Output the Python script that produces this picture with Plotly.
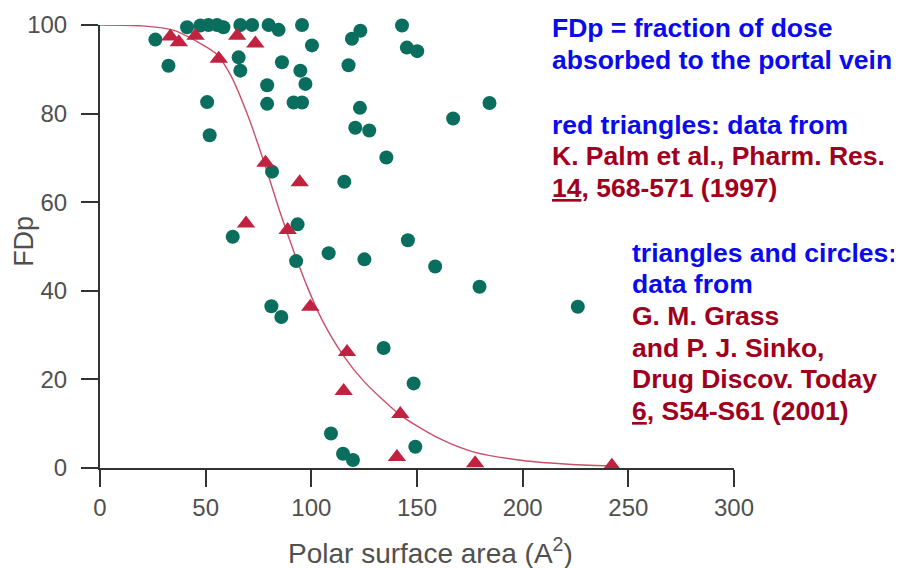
import plotly.graph_objects as go

# ---- data ----
# Grass & Sinko circles: polar surface area (A^2) vs FDp (%)
circle_psa = [26.2, 32.4, 41.2, 47.5, 51.3, 55.4, 58.4, 66.4, 72.0, 79.8, 84.5, 95.6, 100.3,
              50.7, 51.9, 65.6, 66.4, 79.1, 79.1, 86.1, 94.8, 97.2, 91.6, 95.6,
              119.2, 123.2, 117.6, 142.9, 145.2, 150.1, 123.0, 120.8, 127.4, 135.5,
              167.1, 184.3, 81.4, 115.6, 62.8, 93.5, 92.8, 108.2, 125.1, 145.7,
              158.6, 179.6, 226.1, 81.1, 85.8, 134.2, 148.4, 109.3, 115.0, 119.7, 149.2]
circle_fdp = [96.7, 90.8, 99.5, 99.9, 100.0, 100.0, 99.5, 100.0, 100.0, 100.0, 98.9, 100.0, 95.4,
              82.6, 75.1, 92.7, 89.7, 86.4, 82.2, 91.6, 89.7, 86.7, 82.5, 82.5,
              96.9, 98.7, 90.9, 99.9, 94.9, 94.1, 81.3, 76.8, 76.2, 70.1,
              78.9, 82.4, 66.9, 64.6, 52.2, 55.0, 46.7, 48.5, 47.1, 51.4,
              45.5, 40.9, 36.4, 36.5, 34.1, 27.1, 19.1, 7.8, 3.2, 1.8, 4.8]

# Palm et al. triangles
tri_psa = [33.3, 37.3, 45.2, 64.9, 73.5, 56.2, 78.3, 94.5, 69.1, 88.8,
           99.5, 116.9, 115.3, 142.1, 140.5, 177.5, 242.2]
tri_fdp = [97.4, 96.1, 97.6, 97.6, 95.8, 92.4, 68.9, 64.5, 55.2, 53.7,
           36.4, 26.2, 17.4, 12.2, 2.5, 1.1, 0.5]

# sigmoidal fit curve
fit_psa = [0, 20, 35, 45, 55, 62, 70, 78, 85, 92, 98, 105, 115, 125, 142, 160, 177, 200, 220, 243]
fit_fdp = [100, 99.8, 98.8, 96.5, 93.5, 88.5, 79.5, 68.5, 58, 48.5, 41, 33.5, 25.5, 19.5, 12,
           6.8, 3.6, 1.7, 0.9, 0.4]

x_ticks = [0, 50, 100, 150, 200, 250, 300]
y_ticks = [0, 20, 40, 60, 80, 100]

# ---- geometry (pixels); the page body adds an 8 px offset ----
OFF = 8
W, H = 902 - OFF, 568 - OFF
L, R, T, B = 99.5 - OFF, 167.5, 24.5 - OFF, 100
PW, PH = W - L - R, H - T - B


def px(x):
    return (x - OFF - L) / PW


def py(y):
    return (H - B - (y - OFF)) / PH


BLUE = "#0a0aee"
DRED = "#a0001e"
TEAL = "#0a6e5e"
TRI = "#c0223f"
GREY = "#505050"
FONT = "Liberation Sans, Arial, sans-serif"

fig = go.Figure()
fig.add_trace(go.Scatter(x=fit_psa, y=fit_fdp, mode="lines",
                         line=dict(color="#c85068", width=1.4, shape="spline", smoothing=0.7),
                         hoverinfo="skip", cliponaxis=False))
fig.add_trace(go.Scatter(x=circle_psa, y=circle_fdp, mode="markers",
                         marker=dict(symbol="circle", size=14, color=TEAL, line=dict(width=0)),
                         cliponaxis=False, name="circles"))
fig.add_trace(go.Scatter(x=tri_psa, y=tri_fdp, mode="markers",
                         marker=dict(symbol="triangle-up", size=16, color=TRI, line=dict(width=0)),
                         cliponaxis=False, name="triangles"))

axis_common = dict(showgrid=False, zeroline=False, showline=True, linecolor="#333333", linewidth=2,
                   ticks="outside", ticklen=17, tickwidth=2, tickcolor="#333333",
                   tickfont=dict(family=FONT, size=24, color=GREY))
fig.update_xaxes(range=[0, 300], tickvals=x_ticks, **axis_common)
fig.update_yaxes(range=[0, 100], tickvals=y_ticks, ticklabelstandoff=9, **axis_common)

ann = []
# axis titles
ann.append(dict(text="Polar surface area (A<sup>2</sup>)", x=px(431), y=py(551), xref="paper", yref="paper",
                xanchor="center", yanchor="middle", showarrow=False,
                font=dict(family=FONT, size=28, color=GREY)))
ann.append(dict(text="FDp", x=px(24), y=py(241), xref="paper", yref="paper", textangle=-90,
                xanchor="center", yanchor="middle", showarrow=False,
                font=dict(family=FONT, size=27, color=GREY)))

lines = [
    ("FDp = fraction of dose", BLUE, 550, 27.7),
    ("absorbed to the portal vein", BLUE, 550, 59.3),
    ("red triangles: data from", BLUE, 550, 124.3),
    ("K. Palm et al., Pharm. Res.", DRED, 550, 156),
    ("<u>14</u>, 568-571 (1997)", DRED, 550, 187.7),
    ("triangles and circles:", BLUE, 630, 252.7),
    ("data from", BLUE, 630, 284),
    ("G. M. Grass", DRED, 630, 316),
    ("and P. J. Sinko,", DRED, 630, 347.7),
    ("Drug Discov. Today", DRED, 630, 379),
    ("<u>6</u>, S54-S61 (2001)", DRED, 630, 411),
]
for txt, col, xx, yy in lines:
    ann.append(dict(text="<b>" + txt + "</b>", x=px(xx), y=py(yy), xref="paper", yref="paper",
                    xanchor="left", yanchor="middle", showarrow=False, align="left",
                    font=dict(family=FONT, size=26.5, color=col)))

fig.update_layout(width=W, height=H, margin=dict(l=L, r=R, t=T, b=B, autoexpand=False),
                  paper_bgcolor="white", plot_bgcolor="white", showlegend=False,
                  annotations=ann)

fig.write_html("out.html")
